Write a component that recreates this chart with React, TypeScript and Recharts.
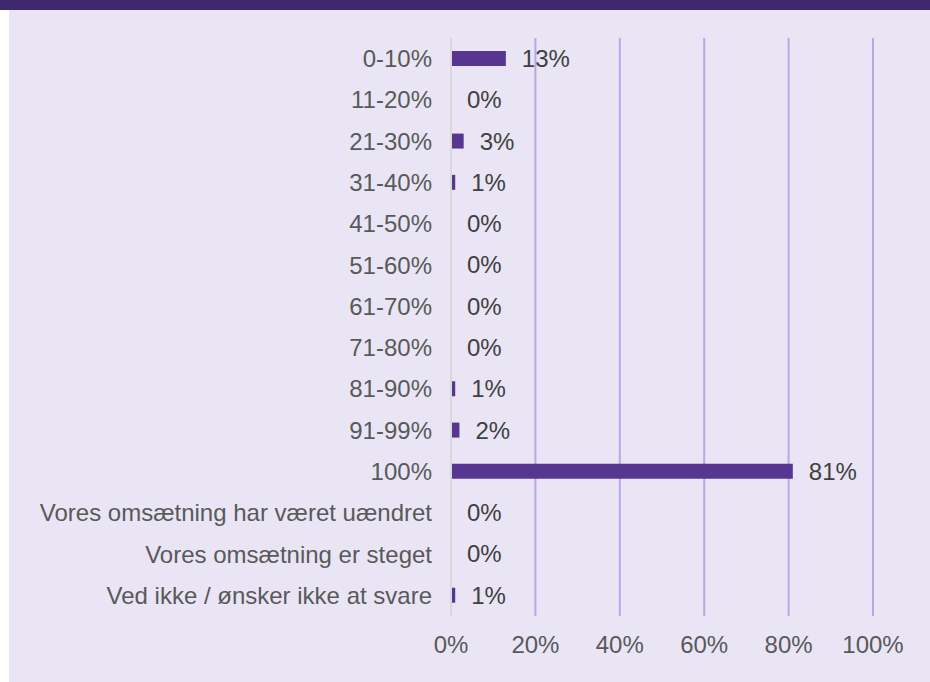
import React from "react";
import { BarChart, Bar, XAxis, YAxis, CartesianGrid, LabelList, Cell } from "recharts";

// categories (top to bottom) and share of respondents in %
const categories: string[] = [
  "0-10%",
  "11-20%",
  "21-30%",
  "31-40%",
  "41-50%",
  "51-60%",
  "61-70%",
  "71-80%",
  "81-90%",
  "91-99%",
  "100%",
  "Vores omsætning har været uændret",
  "Vores omsætning er steget",
  "Ved ikke / ønsker ikke at svare",
];
const shares: number[] = [13, 0, 3, 1, 0, 0, 0, 0, 1, 2, 81, 0, 0, 1];
const xTicks: number[] = [0, 20, 40, 60, 80, 100];

const data = categories.map((name, i) => ({ name, value: shares[i] }));

const FONT = "'Liberation Sans', Arial, sans-serif";

// value label to the right of the bar end, also for 0-width bars
const ValueLabel = (props: any) => {
  const { x, y, width, height, value } = props;
  const w = Number(value) === 0 ? 0 : Number(width || 0);
  return (
    <text
      x={Number(x) + w + 16}
      y={Number(y) + Number(height) / 2}
      dominantBaseline="central"
      fill="#404040"
      fontSize={24}
      fontFamily={FONT}
    >
      {`${value}%`}
    </text>
  );
};

export default function App() {
  return (
    <div
      style={{
        position: "absolute",
        left: 0,
        top: 0,
        width: 930,
        height: 682,
        background: "#ffffff",
        fontFamily: FONT,
        overflow: "hidden",
      }}
    >
      <div style={{ position: "absolute", left: 0, top: 0, width: 930, height: 10, background: "#3f2870" }} />
      <div style={{ position: "absolute", left: 9, top: 10, width: 921, height: 672, background: "#e9e5f5" }} />
      <div style={{ position: "absolute", left: 0, top: 0 }}>
        <BarChart
          width={930}
          height={682}
          data={data}
          layout="vertical"
          margin={{ top: 38, right: 57, bottom: 26, left: 0 }}
          barSize={15}
        >
          <CartesianGrid horizontal={false} stroke="#bca6e4" strokeWidth={2} />
          <XAxis
            type="number"
            domain={[0, 100]}
            ticks={xTicks}
            tickFormatter={(v: number) => `${v}%`}
            axisLine={false}
            tickLine={false}
            tickMargin={14}
            height={40}
            tick={{ fill: "#595959", fontSize: 24, fontFamily: FONT }}
          />
          <YAxis
            type="category"
            dataKey="name"
            width={451}
            axisLine={{ stroke: "#d9d9d9", strokeWidth: 2 }}
            tickLine={false}
            tickSize={0}
            tickMargin={19}
            interval={0}
            tick={{ fill: "#595959", fontSize: 24, fontFamily: FONT }}
          />
          <Bar
            dataKey="value"
            fill="#563691"
            minPointSize={(v: number) => (v === 0 ? 1 : 0)}
            isAnimationActive={false}
          >
            {data.map((d, i) => (
              <Cell key={i} fill={d.value === 0 ? "transparent" : "#563691"} />
            ))}
            <LabelList dataKey="value" content={ValueLabel} />
          </Bar>
        </BarChart>
      </div>
    </div>
  );
}
